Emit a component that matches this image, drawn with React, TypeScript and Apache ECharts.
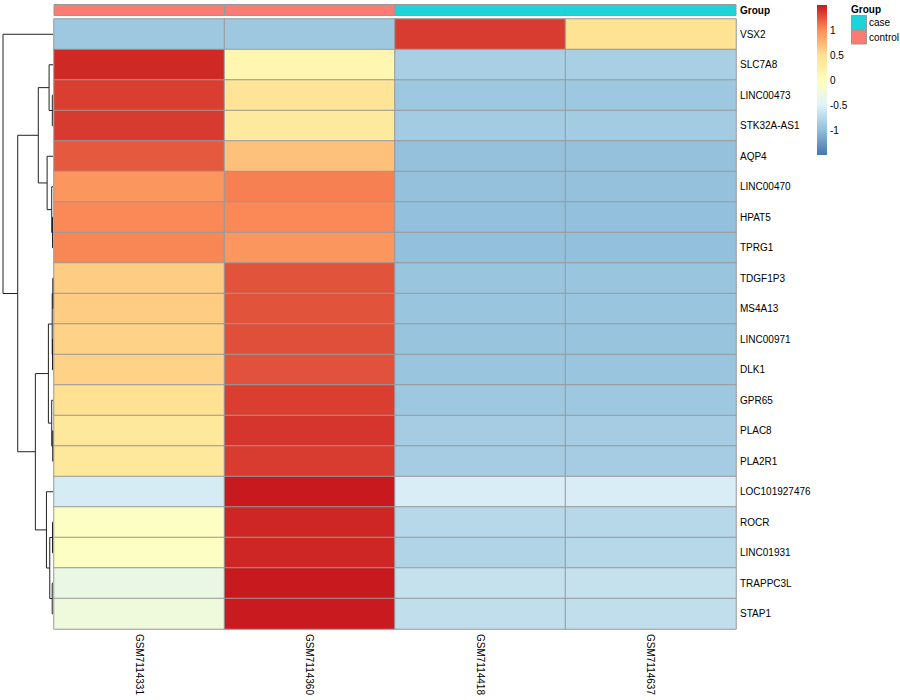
import React, { useEffect, useRef } from 'react';
import * as echarts from 'echarts';

const samples = ['GSM7114331', 'GSM7114360', 'GSM7114418', 'GSM7114637'];
const sampleGroups = ['control', 'control', 'case', 'case'];
const groupNames = ['case', 'control'];
const groupColors = ['#1ED4DA', '#F87B74'];

const genes = [
  'VSX2', 'SLC7A8', 'LINC00473', 'STK32A-AS1', 'AQP4', 'LINC00470', 'HPAT5', 'TPRG1',
  'TDGF1P3', 'MS4A13', 'LINC00971', 'DLK1', 'GPR65', 'PLAC8', 'PLA2R1', 'LOC101927476',
  'ROCR', 'LINC01931', 'TRAPPC3L', 'STAP1',
];

// row-scaled expression (z-scores) per sample column
const gsm7114331 = [-0.9, 1.43, 1.34, 1.36, 1.22, 0.95, 1.02, 1.03, 0.62, 0.62, 0.59, 0.59, 0.49, 0.38, 0.38, -0.55, -0.03, -0.03, -0.32, -0.24];
const gsm7114360 = [-0.9, 0.16, 0.44, 0.35, 0.69, 1.06, 1.02, 0.95, 1.25, 1.25, 1.27, 1.26, 1.34, 1.38, 1.35, 1.5, 1.445, 1.445, 1.5, 1.49];
const gsm7114418 = [1.35, -0.83, -0.9, -0.87, -0.96, -0.96, -0.97, -0.97, -0.93, -0.93, -0.935, -0.93, -0.9, -0.86, -0.86, -0.54, -0.745, -0.78, -0.656, -0.685];
const gsm7114637 = [0.46, -0.83, -0.9, -0.87, -0.96, -0.96, -0.97, -0.97, -0.93, -0.93, -0.935, -0.93, -0.9, -0.86, -0.86, -0.54, -0.745, -0.745, -0.656, -0.685];
const columns = [gsm7114331, gsm7114360, gsm7114418, gsm7114637];

const scaleMin = -1.48;
const scaleMax = 1.5;
const paletteColors = ['#4575B4', '#91BFDB', '#E0F3F8', '#FFFFBF', '#FEE090', '#FC8D59', '#C8191E'];
const legendTicks = [1, 0.5, 0, -0.5, -1];

// row dendrogram merges: [left, right, height]; numbers = leaf row index, 'mK' = merge K
const dendroMerges: [number | string, number | string, number][] = [
  [2, 3, 0.7],
  [1, 'm0', 4],
  [6, 7, 0.5],
  [5, 'm2', 1.3],
  [4, 'm3', 6],
  ['m1', 'm4', 15],
  [8, 9, 0.2],
  [10, 11, 0.5],
  ['m6', 'm7', 0.8],
  [13, 14, 0.3],
  [12, 'm9', 1.3],
  ['m8', 'm10', 4.7],
  [16, 17, 0.5],
  [18, 19, 0.8],
  ['m12', 'm13', 3.3],
  [15, 'm14', 6.7],
  ['m11', 'm15', 18],
  ['m5', 'm16', 36],
  [0, 'm17', 51],
];

const FONT = 'Liberation Sans, Arial, Helvetica, sans-serif';

export default function App() {
  const ref = useRef<HTMLDivElement>(null);
  useEffect(() => {
    if (!ref.current) return;
    const chart = echarts.init(ref.current, undefined, { renderer: 'svg' });

    const heatData: [number, number, number][] = [];
    columns.forEach((col, x) => col.forEach((v, y) => heatData.push([x, y, v])));

    // dendrogram geometry
    const nodePos: { y: number; h: number }[] = [];
    const getNode = (r: number | string) => {
      if (typeof r === 'number') return { y: r + 0.5, h: 0 };
      return nodePos[parseInt(r.slice(1), 10)];
    };
    const dendroLines: { coords: number[][] }[] = [];
    dendroMerges.forEach(([a, b, h]) => {
      const na = getNode(a);
      const nb = getNode(b);
      dendroLines.push({
        coords: [
          [na.h, na.y],
          [h, na.y],
          [h, nb.y],
          [nb.h, nb.y],
        ],
      });
      nodePos.push({ y: (na.y + nb.y) / 2, h });
    });

    const hmLeft = 54;
    const hmWidth = 682;
    const hmTop = 19;
    const hmHeight = 610;

    const legTop = 5;
    const legH = 150;
    const legX = 817;
    const valToY = (v: number) => legTop + ((scaleMax - v) / (scaleMax - scaleMin)) * legH;

    const gradStops = paletteColors
      .map((c, i) => ({ offset: 1 - i / (paletteColors.length - 1), color: c }))
      .reverse();

    const graphics: any[] = [
      {
        type: 'rect',
        shape: { x: legX, y: legTop, width: 10, height: legH },
        style: {
          fill: new echarts.graphic.LinearGradient(0, 0, 0, 1, gradStops),
        },
      },
      ...legendTicks.map((t) => ({
        type: 'text',
        x: legX + 13,
        y: valToY(t),
        style: {
          text: String(t),
          fontSize: 10,
          fontFamily: FONT,
          fill: '#000',
          verticalAlign: 'middle',
          align: 'left',
        },
      })),
      {
        type: 'text',
        x: 851,
        y: 9,
        style: { text: 'Group', fontSize: 10, fontWeight: 'bold', fontFamily: FONT, fill: '#000', verticalAlign: 'middle' },
      },
      ...groupNames.flatMap((g, i) => [
        {
          type: 'rect',
          shape: { x: 851.5, y: 15.5 + i * 14.5, width: 15, height: 14 },
          style: { fill: groupColors[i], stroke: '#999', lineWidth: 1 },
        },
        {
          type: 'text',
          x: 869,
          y: 22.5 + i * 14.5,
          style: { text: g, fontSize: 10, fontFamily: FONT, fill: '#000', verticalAlign: 'middle' },
        },
      ]),
    ];

    const option: any = {
      animation: false,
      backgroundColor: '#fff',
      textStyle: { fontFamily: FONT },
      grid: [
        { left: hmLeft, top: hmTop, width: hmWidth, height: hmHeight },
        { left: 3, top: hmTop, width: 50, height: hmHeight },
        { left: hmLeft, top: 4.5, width: hmWidth, height: 11 },
      ],
      xAxis: [
        {
          gridIndex: 0,
          type: 'category',
          data: samples,
          axisLine: { show: false },
          axisTick: { show: false },
          axisLabel: { rotate: -90, fontSize: 10, color: '#000', margin: 5, fontFamily: FONT },
        },
        {
          gridIndex: 1,
          type: 'value',
          min: 0,
          max: 51,
          inverse: true,
          show: false,
        },
        {
          gridIndex: 2,
          type: 'category',
          data: samples,
          show: false,
        },
      ],
      yAxis: [
        {
          gridIndex: 0,
          type: 'category',
          data: genes,
          inverse: true,
          position: 'right',
          axisLine: { show: false },
          axisTick: { show: false },
          axisLabel: { fontSize: 10, color: '#000', margin: 4, fontFamily: FONT },
        },
        {
          gridIndex: 1,
          type: 'value',
          min: 0,
          max: genes.length,
          inverse: true,
          show: false,
        },
        {
          gridIndex: 2,
          type: 'category',
          data: ['Group'],
          position: 'right',
          axisLine: { show: false },
          axisTick: { show: false },
          axisLabel: { fontSize: 10, color: '#000', margin: 4, fontWeight: 'bold', fontFamily: FONT },
        },
      ],
      visualMap: {
        show: false,
        type: 'continuous',
        min: scaleMin,
        max: scaleMax,
        seriesIndex: 0,
        inRange: { color: paletteColors },
      },
      series: [
        {
          type: 'heatmap',
          xAxisIndex: 0,
          yAxisIndex: 0,
          data: heatData,
          itemStyle: { borderColor: '#999999', borderWidth: 1 },
          emphasis: { disabled: true },
        },
        {
          type: 'lines',
          coordinateSystem: 'cartesian2d',
          xAxisIndex: 1,
          yAxisIndex: 1,
          polyline: true,
          data: dendroLines,
          lineStyle: { color: '#222', width: 1, opacity: 1 },
          silent: true,
        },
        {
          type: 'custom',
          xAxisIndex: 2,
          yAxisIndex: 2,
          data: sampleGroups.map((g, i) => [i, 0, groupNames.indexOf(g)]),
          renderItem: (params: any, api: any) => {
            const p = api.coord([api.value(0), api.value(1)]);
            const s = api.size([1, 1]);
            return {
              type: 'rect',
              shape: { x: p[0] - s[0] / 2, y: p[1] - s[1] / 2, width: s[0], height: s[1] },
              style: { fill: groupColors[api.value(2)], stroke: '#999999', lineWidth: 1 },
            };
          },
          silent: true,
        },
      ],
      graphic: graphics,
    };
    chart.setOption(option);
    return () => chart.dispose();
  }, []);
  return (
    <div
      ref={ref}
      style={{ position: 'absolute', left: 0, top: 0, width: 900, height: 700 }}
    />
  );
}
